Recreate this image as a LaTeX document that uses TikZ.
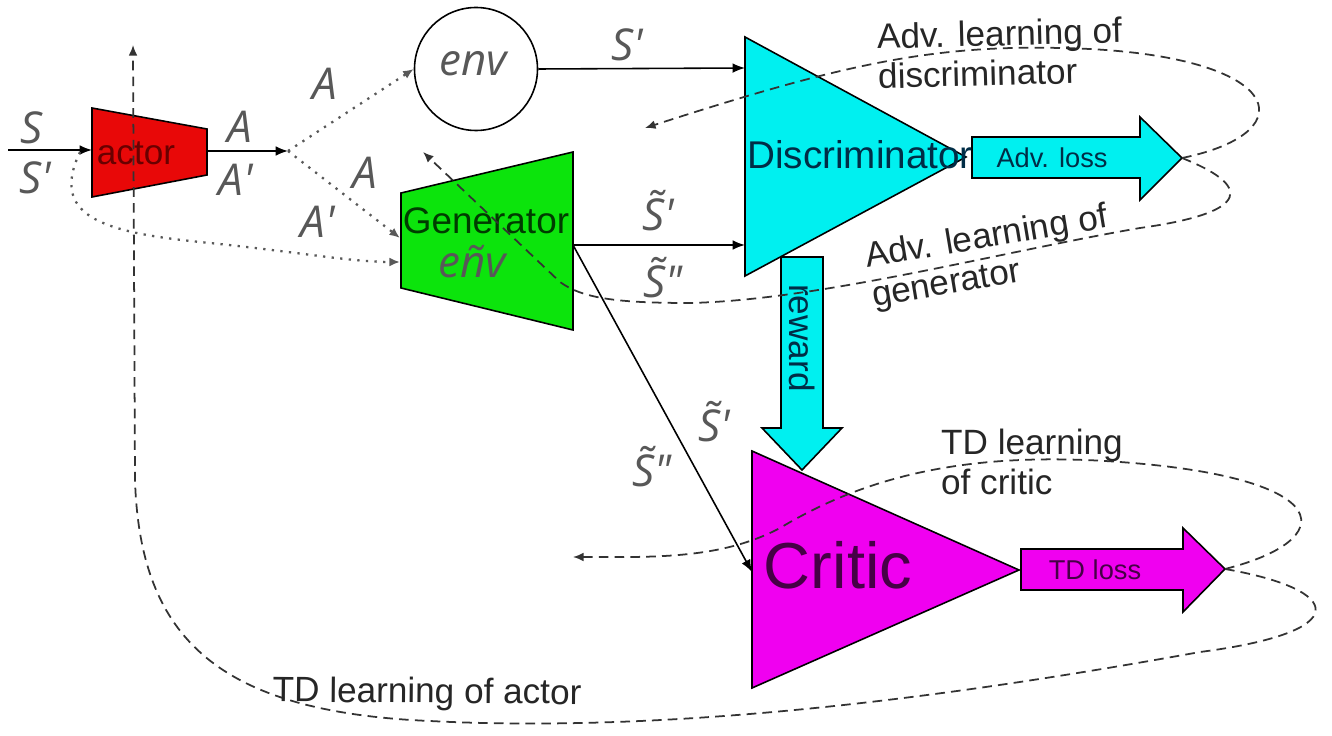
\documentclass[tikz,border=0pt]{standalone}
\usepackage{fontspec}
\setmainfont{Liberation Sans}
\newfontfamily\symfont{Open Sans}
\usetikzlibrary{arrows.meta}

\definecolor{actorred}{RGB}{232,8,8}
\definecolor{actortext}{RGB}{105,0,0}
\definecolor{gengreen}{RGB}{12,228,12}
\definecolor{gentext}{RGB}{0,60,0}
\definecolor{disccyan}{RGB}{0,240,240}
\definecolor{disctext}{RGB}{0,45,70}
\definecolor{critmag}{RGB}{240,0,240}
\definecolor{crittext}{RGB}{70,0,70}
\definecolor{symgray}{RGB}{88,88,88}

\newcommand{\pr}{\textquotesingle}
\newcommand{\dpr}{\textquotedbl}
\newcommand{\tS}{S\symbol{"0303}}

\begin{document}
\begin{tikzpicture}[x=0.2mm,y=-0.2mm,
  conn/.style={line width=0.9pt,-{Latex[length=7pt,width=5.5pt]}},
  dotconn/.style={line width=1.3pt,dash pattern=on 1.3pt off 3.6pt,black!65,-{Latex[length=6pt,width=5pt]}},
  loop/.style={line width=1pt,dash pattern=on 5.5pt off 3.5pt,black!80,-{Latex[length=6pt,width=5pt]}},
  sym/.style={font=\fontsize{25}{27}\selectfont\symfont\itshape,text=symgray,inner sep=0pt},
  lbl/.style={font=\fontsize{20}{22.5}\selectfont,text=black!85,align=left,inner sep=0pt},
  shp/.style={line width=0.9pt,draw=black}]
\useasboundingbox (0,0) rectangle (1332,736);

\filldraw[shp,fill=actorred] (92,108) -- (207,129) -- (207,175) -- (92,197) -- cycle;
\node[text=actortext,font=\fontsize{20}{22}\selectfont] (actor) at (136,153) {actor};
\coordinate (actorin) at (92,150);
\coordinate (actorout) at (207,151);
\coordinate (srcin) at (8,150);
\coordinate (fork) at (288,151);

\node[circle,draw,line width=0.9pt,minimum size=24.6mm,inner sep=0pt] (env) at (476,69) {};
\node[sym] (envtxt) at (473,64) {env};

\filldraw[shp,fill=gengreen] (401,193) -- (573,152) -- (573,330) -- (401,288) -- cycle;
\node[text=gentext,font=\fontsize{21}{23}\selectfont] (gen) at (486,221) {Generator};
\node[sym] (gentxt) at (472,262) {eñv};
\coordinate (genA) at (400,238);
\coordinate (genS) at (400,262);
\coordinate (genout) at (573,245);

\filldraw[shp,fill=disccyan] (745,37) -- (966,157) -- (745,276) -- cycle;
\coordinate (discS) at (745,68);
\coordinate (discT) at (745,245);

\filldraw[shp,fill=critmag] (752,451) -- (1019,570) -- (752,688) -- cycle;
\node[text=crittext,font=\fontsize{37}{40}\selectfont] (critic) at (838,565) {Critic};
\coordinate (critin) at (752,572);

\filldraw[shp,fill=disccyan] (972,137) -- (1140,137) -- (1140,117) -- (1182,158) -- (1140,200) -- (1140,178) -- (972,178) -- cycle;
\node[text=disctext,font=\fontsize{15.5}{17}\selectfont] (advloss) at (1052,158) {Adv. loss};
\coordinate (advtip) at (1182,158);
\node[text=disctext,font=\fontsize{22}{24}\selectfont] (disc) at (860,155) {Discriminator};

\filldraw[shp,fill=disccyan] (781,257) -- (823,257) -- (823,428) -- (842,428) -- (802,470) -- (762,428) -- (781,428) -- cycle;
\node[text=disctext,font=\fontsize{20}{22}\selectfont,rotate=-90] (reward) at (802,338) {reward};

\filldraw[shp,fill=critmag] (1021,549) -- (1183,549) -- (1183,528) -- (1225,569) -- (1183,612) -- (1183,590) -- (1021,590) -- cycle;
\node[text=crittext,font=\fontsize{15.5}{17}\selectfont] (tdloss) at (1095,570) {TD loss};
\coordinate (tdtip) at (1225,569);

\draw[conn] (srcin) -- (actorin);
\draw[conn] (actorout) -- (fork);
\draw[dotconn] (fork) -- (env.west);
\draw[dotconn] (fork) -- (genA);
\draw[dotconn] (80,152) .. controls (50,215) and (100,232) .. (200,242) .. controls (300,252) and (350,262) .. (genS);
\draw[conn] (env.east) -- (discS);
\draw[conn] (genout) -- (discT);
\draw[conn] (genout) -- (critin);

\coordinate (advend1) at (645,128);
\coordinate (advend2) at (423,152);
\coordinate (tdend1) at (573,557);
\coordinate (tdend2) at (133,45);
\draw[loop] (advtip) .. controls (1310,132) and (1285,52) .. (1060,48) .. controls (930,45) and (840,65) .. (advend1);
\draw[loop] (advtip) .. controls (1250,185) and (1255,212) .. (1140,228) .. controls (1000,252) and (820,300) .. (690,303) .. controls (615,303) and (582,298) .. (560,282) -- (advend2);
\draw[loop] (tdtip) .. controls (1340,540) and (1340,478) .. (1120,462) .. controls (960,450) and (860,480) .. (780,528) .. controls (720,560) and (650,557) .. (tdend1);
\draw[loop] (tdtip) .. controls (1345,590) and (1355,632) .. (1200,652) .. controls (1000,688) and (700,735) .. (430,721) .. controls (220,712) and (140,640) .. (135,480) -- (tdend2);

\node[sym] (lS) at (32,128) {S};
\node[sym] (lSp) at (35,178) {S\pr};
\node[sym] (lA) at (240,127) {A};
\node[sym] (lAp) at (236,180) {A\pr};
\node[sym] (lAenv) at (325,84) {A};
\node[sym] (lAgen) at (365,173) {A};
\node[sym] (lApgen) at (318,222) {A\pr};
\node[sym] (lSenv) at (627,45) {S\pr};
\node[sym] (lSgen) at (658,211) {\tS\pr};
\node[sym] (lSSgen) at (663,278) {\tS\dpr};
\node[sym] (lScrit) at (714,422) {\tS\pr};
\node[sym] (lSScrit) at (652,467) {\tS\dpr};

\node[lbl,rotate=1.5] (advdisc) at (1000,53) {Adv. learning of\\discriminator};
\node[lbl,rotate=9.5] (advgen) at (990,258) {Adv. learning of\\generator};
\node[lbl] (tdcrit) at (1032,462) {TD learning\\of critic};
\node[lbl,anchor=base,rotate=-0.5] (tdactor) at (427,703) {TD learning of actor};
\end{tikzpicture}
\end{document}
